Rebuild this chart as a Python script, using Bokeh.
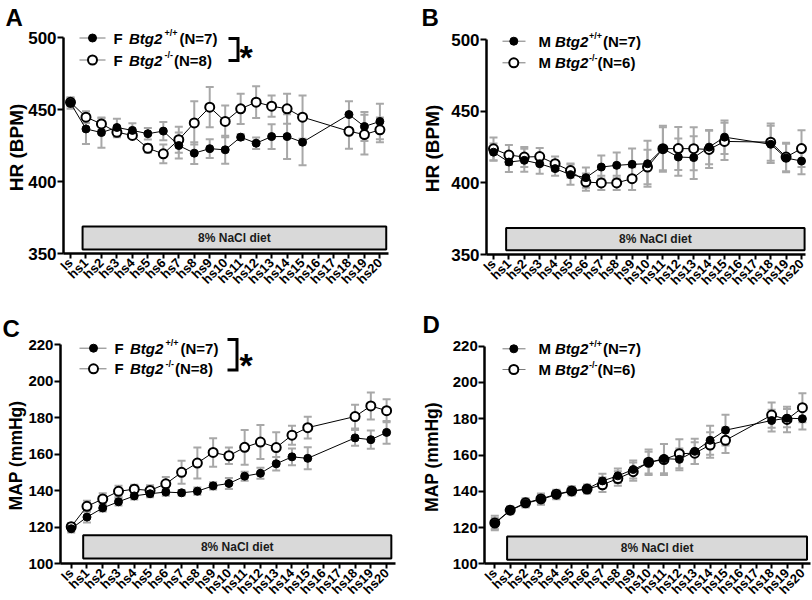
import math
from bokeh.plotting import figure
from bokeh.models import (Range1d, FixedTicker, Label, PolyAnnotation, Whisker,
                          TeeHead, ColumnDataSource)
from bokeh.layouts import row, column
from bokeh.embed import file_html
from bokeh.resources import INLINE

# ---------------- data ----------------
categories = ["ls", "hs1", "hs2", "hs3", "hs4", "hs5", "hs6", "hs7", "hs8", "hs9", "hs10",
              "hs11", "hs12", "hs13", "hs14", "hs15", "hs16", "hs17", "hs18", "hs19", "hs20"]
days = ["ls", "hs1", "hs2", "hs3", "hs4", "hs5", "hs6", "hs7", "hs8", "hs9", "hs10",
        "hs11", "hs12", "hs13", "hs14", "hs15", "hs18", "hs19", "hs20"]

# A: female HR
hr_f_wt = [454.5, 436.5, 434.0, 437.5, 435.5, 433.2, 435.0, 425.0, 419.7, 422.8, 422.0,
           430.8, 426.6, 431.2, 431.2, 427.3, 446.5, 438.2, 441.7]
hr_f_wt_sem = [4, 10.5, 10.5, 6, 5, 4, 6.3, 9, 7.5, 6.5, 9.7, 2, 4, 8.6, 15.5, 16, 9.3, 10, 12.3]
hr_f_ko = [455.0, 444.7, 440.0, 434.2, 432.0, 423.1, 419.2, 429.0, 440.7, 451.6, 441.7,
           450.5, 455.1, 452.3, 450.5, 444.7, 434.9, 432.6, 435.9]
hr_f_ko_sem = [3, 4, 4, 3.5, 1.5, 3, 6.5, 9, 15, 14, 11, 10.5, 11, 7.4, 10.4, 15, 12.2, 13.8, 8.6]

# B: male HR
hr_m_wt = [421.5, 414.6, 415.8, 413.4, 410.0, 405.8, 403.7, 411.1, 412.3, 413.0, 413.4,
           423.9, 418.1, 417.7, 425.0, 432.0, 427.0, 417.4, 415.3]
hr_m_wt_sem = [6, 7, 8, 7, 5, 7, 7, 8, 9, 11, 16, 15, 13, 15, 12, 11.7, 13, 10, 9.3]
hr_m_ko = [423.8, 419.5, 418.1, 418.4, 413.4, 408.6, 400.6, 400.0, 400.0, 403.0, 411.1,
           423.9, 424.0, 423.9, 423.4, 429.0, 428.5, 418.1, 424.0]
hr_m_ko_sem = [8, 7, 7, 6, 5, 5, 6, 5, 5, 8, 12, 16, 15, 15, 13, 13, 13, 10, 12.8]

# C: female MAP
map_f_wt = [119.2, 125.6, 130.6, 134.0, 137.2, 138.4, 139.3, 138.9, 139.8, 142.7, 144.0,
            148.0, 149.6, 154.8, 158.6, 157.8, 169.0, 168.0, 172.0]
map_f_wt_sem = [2, 3, 2, 2, 2, 2, 2, 1.5, 2, 2, 3, 2.5, 3, 3.7, 4.6, 6, 4.3, 5, 6.2]
map_f_ko = [120.3, 131.5, 135.5, 139.7, 140.9, 140.2, 143.8, 150.1, 155.2, 161.0, 159.2,
            163.8, 166.7, 163.7, 170.5, 174.6, 180.7, 186.5, 183.9]
map_f_ko_sem = [2, 3, 3.2, 3, 2.4, 2.8, 3.7, 6.3, 8.5, 7.8, 4.5, 9.5, 9.3, 8.4, 5.2, 6, 6.5, 7.4, 6.3]

# D: male MAP
map_m_wt = [122.2, 129.4, 133.3, 135.5, 138.1, 140.0, 141.3, 145.7, 148.5, 152.0, 155.8,
            158.0, 157.6, 162.0, 168.1, 173.7, 179.0, 180.3, 180.0]
map_m_wt_sem = [3, 2, 2, 3, 2.5, 2, 2, 4, 4, 5, 6, 8, 6, 7, 8, 8.5, 6, 5, 6]
map_m_ko = [122.5, 129.6, 133.6, 135.8, 138.4, 140.2, 141.2, 143.6, 147.0, 150.8, 156.0,
            157.5, 160.7, 161.0, 165.5, 168.1, 182.0, 179.6, 186.1]
map_m_ko_sem = [4, 2, 2.5, 3, 2.5, 2.5, 2.5, 4, 4, 5, 7, 8.5, 8, 6, 7, 7, 7, 7, 8]

diet_label = "8% NaCl diet"

# ---------------- style ----------------
FONT = "Liberation Sans"
GRAY = "#a8a8a8"


def make_panel(c, wt, wt_sem, ko, ko_sem):
    fx0, fy0, w, h = c["fig"]
    ls_px, dx = c["xmap"]
    (v_hi, py_hi), (v_lo, py_lo) = c["ymap"]
    k = (py_lo - py_hi) / (v_hi - v_lo)

    def X(px):
        return (px - ls_px) / dx

    def Y(py):
        return v_hi - (py - py_hi) / k

    p = figure(width=w, height=h, x_range=Range1d(X(fx0), X(fx0 + w)),
               y_range=Range1d(Y(fy0 + h), Y(fy0)), title=None,
               output_backend="svg", toolbar_location=None,
               min_border_left=0, min_border_right=0, min_border_top=0, min_border_bottom=0)
    p.outline_line_color = None
    p.xgrid.visible = False
    p.ygrid.visible = False
    p.background_fill_color = "white"
    p.border_fill_color = "white"

    # axes (positioned at the data origin of the panel)
    xa0, xa1 = c["xbounds"]
    p.xaxis.fixed_location = v_lo
    p.xaxis.bounds = (xa0, xa1)
    p.yaxis.fixed_location = xa0
    p.yaxis.bounds = (v_lo, v_hi)
    p.xaxis.ticker = FixedTicker(ticks=list(range(len(categories))))
    p.xaxis.major_label_overrides = {i: s for i, s in enumerate(categories)}
    p.xaxis.major_label_orientation = math.pi / 4
    p.xaxis.major_label_text_font_size = c["xfs"]
    p.xaxis.major_tick_out = 5
    p.xaxis.major_label_standoff = 2
    p.yaxis.ticker = FixedTicker(ticks=c["yticks"])
    p.yaxis.major_label_text_font_size = c["yfs"]
    p.yaxis.major_tick_out = 6
    p.yaxis.major_label_standoff = 1
    for ax in (p.xaxis[0], p.yaxis[0]):
        ax.axis_line_width = 2.5
        ax.axis_line_color = "black"
        ax.major_tick_line_width = 2
        ax.major_tick_line_color = "black"
        ax.major_tick_in = 0
        ax.minor_tick_line_color = None
        ax.major_label_text_font = FONT
        ax.major_label_text_font_style = "bold"
        ax.major_label_text_color = "black"

    # y axis title
    ylx, yly = c["ylabel_pos"]
    p.add_layout(Label(x=X(ylx), y=Y(yly), text=c["ylabel"], angle=math.pi / 2,
                       text_font=FONT, text_font_style="bold", text_font_size=c["ylfs"],
                       text_align="center", text_baseline="middle", text_color="black"))

    # diet bar
    bx0, bx1, by0, by1 = c["bar"]
    p.quad(left=[bx0], right=[bx1], top=[by1], bottom=[by0],
           fill_color="#d9d9d9", line_color="black", line_width=2)
    p.add_layout(Label(x=(bx0 + bx1) / 2, y=(by0 + by1) / 2, text=diet_label,
                       text_font=FONT, text_font_style="bold", text_font_size="12px",
                       text_align="center", text_baseline="middle", text_color="#1a1a1a"))

    xs = [categories.index(d) for d in days]

    def series(vals, sem):
        return ColumnDataSource(dict(x=xs, y=vals,
                                     upper=[v + s for v, s in zip(vals, sem)],
                                     lower=[v - s for v, s in zip(vals, sem)]))

    s_wt = series(wt, wt_sem)
    s_ko = series(ko, ko_sem)
    for s in (s_ko, s_wt):
        wk = Whisker(base="x", upper="upper", lower="lower", source=s,
                     line_color=GRAY, line_width=2, level="underlay",
                     upper_head=TeeHead(size=8, line_color=GRAY, line_width=2),
                     lower_head=TeeHead(size=8, line_color=GRAY, line_width=2))
        p.add_layout(wk)
    p.line("x", "y", source=s_ko, line_color="black", line_width=1)
    p.line("x", "y", source=s_wt, line_color="black", line_width=1)
    p.scatter("x", "y", source=s_ko, size=9, marker="circle", fill_color="white",
              line_color="black", line_width=2)
    p.scatter("x", "y", source=s_wt, size=8, marker="circle", fill_color="black",
              line_color="black", line_width=1)

    # legend (hand-drawn for italic / superscript text)
    lx0, lx1, lmk = c["swatch"]
    for r in c["legend"]:
        ry = r["y"]
        p.line([X(lx0), X(lx1)], [Y(ry), Y(ry)], line_color="#7a7a7a", line_width=1)
        if r["open"]:
            p.scatter([X(lmk)], [Y(ry)], size=9, fill_color="white", line_color="black", line_width=2)
        else:
            p.scatter([X(lmk)], [Y(ry)], size=8, fill_color="black", line_color="black")
        for px, txt, style, size, dy in r["pieces"]:
            p.add_layout(Label(x=X(px), y=Y(ry + dy), text=txt, text_font=FONT,
                               text_font_style=style, text_font_size=f"{size}px",
                               text_align="left", text_baseline="middle", text_color="black"))

    # significance bracket
    if c.get("bracket"):
        bl_, br_, bt_, bb_ = c["bracket"]
        t = 3
        pxs = [bl_, br_, br_, bl_, bl_, br_ - t, br_ - t, bl_]
        pys = [bt_, bt_, bb_, bb_, bb_ - t, bb_ - t, bt_ + t, bt_ + t]
        p.add_layout(PolyAnnotation(xs=[X(v) for v in pxs], ys=[Y(v) for v in pys],
                                    fill_color="black", fill_alpha=1.0, line_alpha=0))
        ax_, ay_ = c["star"]
        p.add_layout(Label(x=X(ax_), y=Y(ay_), text="*", text_font=FONT, text_font_style="bold",
                           text_font_size="34px", text_align="left", text_baseline="middle",
                           text_color="black"))

    # panel letter
    lx, ly, letter = c["letter"]
    p.add_layout(Label(x=X(lx), y=Y(ly), text=letter, text_font=FONT, text_font_style="bold",
                       text_font_size="24px", text_align="left", text_baseline="middle",
                       text_color="black"))
    return p


def leg(sex, n_ko, y1, y2, x_f, x_b, x_s, x_p1, x_p2):
    return [
        dict(y=y1, open=False, pieces=[(x_f, sex, "bold", 15, 0), (x_b, "Btg2", "bold italic", 15, 0),
                                       (x_s, "+/+", "bold", 9, -5), (x_p1, "(N=7)", "bold", 15, 0)]),
        dict(y=y2, open=True, pieces=[(x_f, sex, "bold", 15, 0), (x_b, "Btg2", "bold italic", 15, 0),
                                      (x_s, "-/-", "bold", 9, -5), (x_p2, f"(N={n_ko})", "bold", 15, 0)]),
    ]


cfgA = dict(fig=(0, 0, 406, 290), xmap=(70, 15.47), ymap=((500, 37), (350, 253)),
            xbounds=(-0.45, 20.58), yticks=[350, 400, 450, 500],
            ylabel="HR (BPM)", ylabel_pos=(16, 147), xfs="13px", yfs="17px", ylfs="19px",
            bar=(0.78, 20.41, 352.8, 368.7), swatch=(79, 105, 92),
            legend=leg("F", 8, 37.5, 59.5, 113, 128.5, 164, 179, 173.5),
            bracket=(228, 239, 36.5, 61.5), star=(239, 56), letter=(5, 17, "A"))
cfgB = dict(fig=(406, 0, 405, 290), xmap=(493, 15.4), ymap=((500, 39.3), (350, 254)),
            xbounds=(-0.45, 20.26), yticks=[350, 400, 450, 500],
            ylabel="HR (BPM)", ylabel_pos=(431.5, 148), xfs="13px", yfs="17px", ylfs="19px",
            bar=(0.82, 20.2, 353, 368.5), swatch=(502, 525, 513.3),
            legend=leg("M", 6, 40.7, 62.3, 538, 554.5, 588.5, 602.5, 597),
            bracket=None, letter=(421, 17, "B"))
cfgC = dict(fig=(0, 290, 406, 309), xmap=(70.7, 15.77), ymap=((220, 344.3), (100, 563.3)),
            xbounds=(-0.68, 20.56), yticks=[100, 120, 140, 160, 180, 200, 220],
            ylabel="MAP (mmHg)", ylabel_pos=(15, 455), xfs="13px", yfs="15px", ylfs="17.5px",
            bar=(0.76, 20.3, 102.9, 115.7), swatch=(79, 106, 93),
            legend=leg("F", 8, 347.7, 368.3, 114, 129.5, 165, 180, 174.5),
            bracket=(227, 238, 337.5, 371), star=(239, 364.5), letter=(2, 328, "C"))
cfgD = dict(fig=(406, 290, 405, 309), xmap=(494.3, 15.38), ymap=((220, 345.7), (100, 563.3)),
            xbounds=(-0.65, 20.5), yticks=[100, 120, 140, 160, 180, 200, 220],
            ylabel="MAP (mmHg)", ylabel_pos=(431.5, 456.5), xfs="13px", yfs="15px", ylfs="17.5px",
            bar=(0.8, 20.3, 102.3, 115.1), swatch=(502, 525, 513.3),
            legend=leg("M", 6, 348.3, 369, 538, 554.5, 588.5, 602.5, 597),
            bracket=None, letter=(422, 324, "D"))

pA = make_panel(cfgA, hr_f_wt, hr_f_wt_sem, hr_f_ko, hr_f_ko_sem)
pB = make_panel(cfgB, hr_m_wt, hr_m_wt_sem, hr_m_ko, hr_m_ko_sem)
pC = make_panel(cfgC, map_f_wt, map_f_wt_sem, map_f_ko, map_f_ko_sem)
pD = make_panel(cfgD, map_m_wt, map_m_wt_sem, map_m_ko, map_m_ko_sem)

layout = column(row(pA, pB), row(pC, pD))
open("out.html", "w").write(file_html(layout, INLINE))
